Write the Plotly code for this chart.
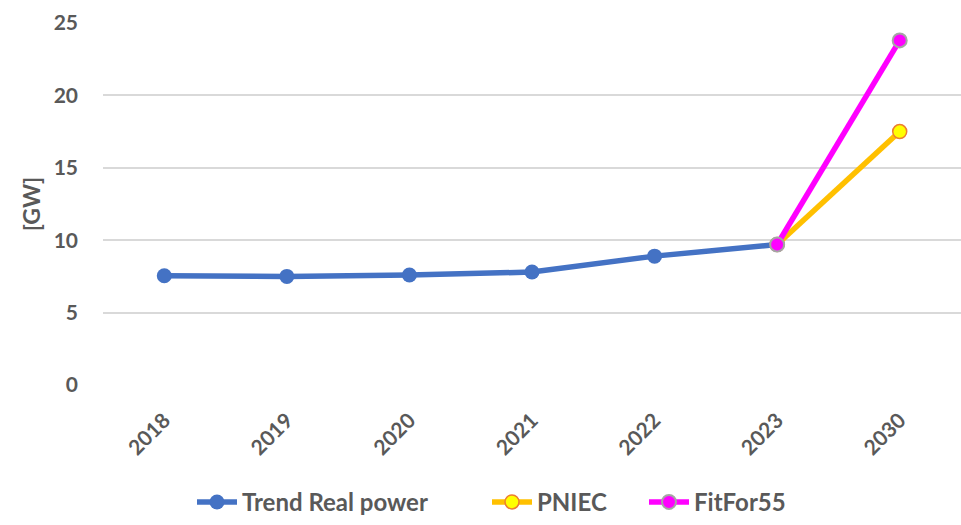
import plotly.graph_objects as go

# Categories and series values (GW)
years = ["2018", "2019", "2020", "2021", "2022", "2023", "2030"]
trend_years = ["2018", "2019", "2020", "2021", "2022", "2023"]
trend_values = [7.55, 7.5, 7.6, 7.8, 8.9, 9.7]
pniec_years = ["2023", "2030"]
pniec_values = [9.7, 17.5]
ff55_years = ["2023", "2030"]
ff55_values = [9.7, 23.8]
y_ticks = [0, 5, 10, 15, 20, 25]

FONT = "Lato"
TEXT = "#595959"
L, R, T, B = 103, 0, 23, 138
W, H = 961, 525
PW = W - L - R
PH = H - T - B


def px_x(px):
    return (px - L) / PW


def px_y(py):
    return (H - B - py) / PH


legend_font = dict(family=FONT, size=24, color=TEXT, weight="bold")

fig = go.Figure()

fig.add_trace(go.Scatter(
    x=trend_years, y=trend_values, name="Trend Real power",
    mode="lines+markers", legend="legend",
    line=dict(color="#4472C4", width=5.5),
    marker=dict(size=15, color="#4472C4", line=dict(width=0)),
))
fig.add_trace(go.Scatter(
    x=pniec_years, y=pniec_values, name="PNIEC",
    mode="lines+markers", legend="legend2",
    line=dict(color="#FFC000", width=5.5),
    marker=dict(size=14, color="#FFFF00", line=dict(color="#ED7D31", width=1.5)),
))
fig.add_trace(go.Scatter(
    x=ff55_years, y=ff55_values, name="FitFor55",
    mode="lines+markers", legend="legend3",
    line=dict(color="#FF00FF", width=5.5),
    marker=dict(size=14, color="#FF00FF", line=dict(color="#A5A5A5", width=2)),
))

legend_common = dict(orientation="h", yanchor="middle", xanchor="left",
                     y=px_y(505), font=legend_font, itemwidth=40,
                     bgcolor="rgba(0,0,0,0)")

fig.update_layout(
    width=W, height=H,
    margin=dict(l=L, r=R, t=T, b=B),
    paper_bgcolor="white", plot_bgcolor="white",
    font=dict(family=FONT, size=21, color=TEXT),
    showlegend=True,
    legend=dict(x=px_x(192), **legend_common),
    legend2=dict(x=px_x(487), **legend_common),
    legend3=dict(x=px_x(644), **legend_common),
    xaxis=dict(
        type="category", categoryorder="array", categoryarray=years,
        range=[-0.5, len(years) - 0.5],
        showgrid=False, zeroline=False, showline=False, ticks="",
        tickangle=-45, ticklabelstandoff=18,
        tickfont=dict(family=FONT, size=21, color=TEXT, weight="bold"),
    ),
    yaxis=dict(
        range=[0, 25], tickvals=y_ticks,
        showgrid=True, gridcolor="#D9D9D9", gridwidth=1.5,
        zeroline=False, showline=False, ticks="",
        ticklabelstandoff=24,
        tickfont=dict(family=FONT, size=21, color=TEXT, weight="bold"),
        title=dict(text="[GW]", standoff=6,
                   font=dict(family=FONT, size=23, color=TEXT, weight="bold")),
    ),
)

fig.write_html("out.html")
